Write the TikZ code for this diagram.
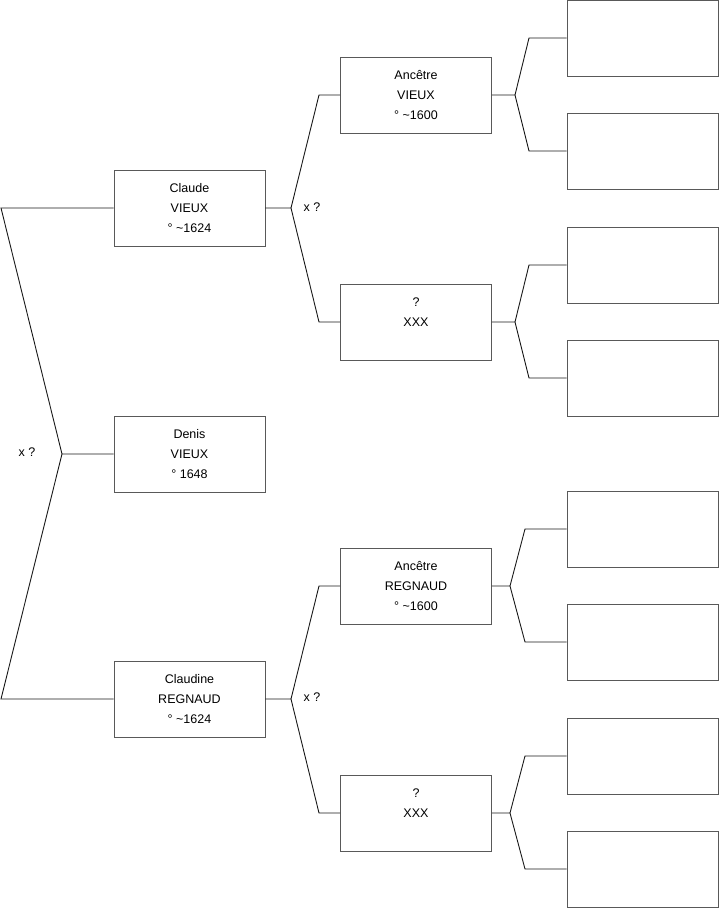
\documentclass[tikz,border=0pt]{standalone}
\usepackage{fontspec}
\setmainfont{Liberation Sans}
\begin{document}
\begin{tikzpicture}[x=1pt,y=-1pt,
  box/.style={draw=black!65, line width=0.9pt, minimum width=151pt, minimum height=76pt, inner sep=0pt,
    align=center, font=\fontsize{12.5}{20}\selectfont},
  conn/.style={draw=black!90, line width=0.9pt},
  lbl/.style={font=\fontsize{12.5}{15}\selectfont, inner sep=0pt}]
\useasboundingbox (0,0) rectangle (719,908);
% generation 1-2
\node[box] (claude) at (189.5,208) {Claude\\VIEUX\\° \textasciitilde1624};
\node[box] (denis) at (189.5,454) {Denis\\VIEUX\\° 1648};
\node[box] (claudine) at (189.5,699) {Claudine\\REGNAUD\\° \textasciitilde1624};
% generation 3
\node[box] (av) at (416,95) {Ancêtre\\VIEUX\\° \textasciitilde1600};
\node[box] (xv) at (416,322) {?\\XXX\\\mbox{}};
\node[box] (ar) at (416,586) {Ancêtre\\REGNAUD\\° \textasciitilde1600};
\node[box] (xr) at (416,813) {?\\XXX\\\mbox{}};
% generation 4
\node[box] (r1) at (642.5,38) {};
\node[box] (r2) at (642.5,151) {};
\node[box] (r3) at (642.5,265) {};
\node[box] (r4) at (642.5,378) {};
\node[box] (r5) at (642.5,529) {};
\node[box] (r6) at (642.5,642) {};
\node[box] (r7) at (642.5,756) {};
\node[box] (r8) at (642.5,869) {};
% labels
\node[lbl] (l0) at (27,452) {x ?};
\node[lbl] (l1) at (312,207) {x ?};
\node[lbl] (l2) at (312,697) {x ?};
% junction coordinates
\coordinate (j0) at (62,454);
\coordinate (c0a) at (1,208);
\coordinate (c0b) at (1,699);
\coordinate (j1) at (291,208);
\coordinate (c1a) at (319,95);
\coordinate (c1b) at (319,322);
\coordinate (j2) at (291,699);
\coordinate (c2a) at (319,586);
\coordinate (c2b) at (319,813);
\coordinate (j3) at (515,95);
\coordinate (c3a) at (529,38);
\coordinate (c3b) at (529,151);
\coordinate (j4) at (515,322);
\coordinate (c4a) at (529,265);
\coordinate (c4b) at (529,378);
\coordinate (j5) at (510,586);
\coordinate (c5a) at (525,529);
\coordinate (c5b) at (525,642);
\coordinate (j6) at (510,813);
\coordinate (c6a) at (525,756);
\coordinate (c6b) at (525,869);
% connectors
\draw[conn] (claude.west) -- (c0a) -- (j0) -- (denis.west);
\draw[conn] (j0) -- (c0b) -- (claudine.west);
\draw[conn] (claude.east) -- (j1) -- (c1a) -- (av.west);
\draw[conn] (j1) -- (c1b) -- (xv.west);
\draw[conn] (claudine.east) -- (j2) -- (c2a) -- (ar.west);
\draw[conn] (j2) -- (c2b) -- (xr.west);
\draw[conn] (av.east) -- (j3) -- (c3a) -- (r1.west);
\draw[conn] (j3) -- (c3b) -- (r2.west);
\draw[conn] (xv.east) -- (j4) -- (c4a) -- (r3.west);
\draw[conn] (j4) -- (c4b) -- (r4.west);
\draw[conn] (ar.east) -- (j5) -- (c5a) -- (r5.west);
\draw[conn] (j5) -- (c5b) -- (r6.west);
\draw[conn] (xr.east) -- (j6) -- (c6a) -- (r7.west);
\draw[conn] (j6) -- (c6b) -- (r8.west);
\end{tikzpicture}
\end{document}
